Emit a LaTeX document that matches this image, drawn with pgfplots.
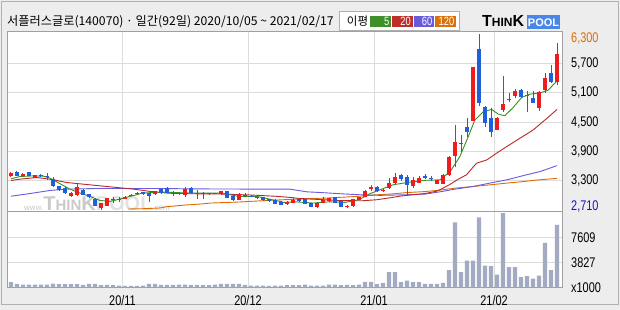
\documentclass[border=0pt]{standalone}
\usepackage{pgfplots}
\pgfplotsset{compat=1.18}
\usepackage{pgfplotstable}
\usepackage{fontspec}
\setmainfont{Noto Sans CJK KR}
\newfontfamily\labfont[FakeStretch=0.78]{Liberation Sans}
\newfontfamily\logofont{Liberation Sans}

\definecolor{bgc}{HTML}{EDEDED}
\definecolor{framec}{HTML}{B0B0B0}
\definecolor{axc}{HTML}{A0A0A0}
\definecolor{gridc}{HTML}{DCDCDC}
\definecolor{cred}{HTML}{EE1C1C}
\definecolor{cblue}{HTML}{1F5FDB}
\definecolor{maG}{HTML}{3A8F28}
\definecolor{maR}{HTML}{B8282A}
\definecolor{maP}{HTML}{6A5AE0}
\definecolor{maO}{HTML}{E06C00}
\definecolor{volc}{HTML}{A3ABC2}
\definecolor{lgG}{HTML}{3F8F2A}
\definecolor{lgR}{HTML}{BF2F2A}
\definecolor{lgP}{HTML}{6A5ADC}
\definecolor{lgO}{HTML}{D9720B}
\definecolor{logob}{HTML}{4A86E8}
\definecolor{wm}{HTML}{CACACA}
\definecolor{wm2}{HTML}{E2E2E2}

\pgfplotstableread{
i o h l c
0 3390 3470 3370 3455
2 3400 3455 3390 3445
4 3360 3425 3350 3415
10 2985 3080 2975 3060
11 3015 3240 3000 3170
15 2745 2850 2710 2845
16 2790 2955 2780 2950
17 2900 2960 2840 2930
19 2930 2980 2920 2970
20 2990 3030 2980 3020
21 3030 3065 3020 3060
24 3030 3090 3020 3085
28 3030 3060 3020 3050
29 3010 3180 2970 3135
33 3030 3060 3020 3050
34 3040 3060 3030 3055
35 3025 3090 3015 3085
38 2915 3060 2905 3040
46 2835 2895 2810 2870
47 2850 2950 2840 2915
51 2760 2870 2750 2850
52 2850 2960 2845 2910
53 2880 2955 2870 2945
56 2760 2800 2740 2790
57 2780 2935 2770 2925
58 2915 2970 2905 2960
59 2970 3110 2960 3100
60 3135 3210 3090 3165
62 3100 3160 3080 3120
63 3150 3360 3140 3265
64 3255 3450 3230 3375
67 3185 3370 3160 3320
68 3260 3400 3250 3360
71 3240 3325 3235 3320
72 3235 3440 3230 3420
73 3420 3800 3400 3795
74 3810 4440 3590 4100
77 4530 5630 4520 5625
81 4340 4600 4330 4590
82 4745 5440 4710 4865
84 5030 5180 4990 5130
86 5040 5140 4710 5060
88 4785 5125 4730 5120
89 5150 5500 5090 5410
91 5320 6110 5250 5900
}\redtab

\pgfplotstableread{
i o h l c
1 3480 3495 3390 3400
3 3470 3480 3390 3400
5 3420 3440 3380 3400
6 3405 3450 3320 3385
7 3335 3370 3170 3185
8 3185 3200 3090 3105
9 3160 3170 3040 3050
12 3115 3125 3005 3015
13 3030 3040 2950 2960
14 2930 2940 2780 2790
18 2930 2975 2870 2910
22 3070 3080 3020 3030
23 3050 3060 2860 2985
25 3130 3140 3040 3050
26 3160 3165 3045 3050
27 3060 3090 3000 3030
30 3145 3180 3040 3060
31 3060 3120 2920 3045
32 3050 3080 2930 3035
36 3085 3095 2940 2950
37 2995 3005 2890 2900
39 3015 3060 2970 3000
40 3000 3015 2965 2975
41 2965 2975 2930 2940
42 2965 2975 2895 2905
43 2920 2930 2870 2880
44 2915 2925 2825 2835
45 2870 2880 2800 2810
48 2925 2935 2870 2880
49 2920 2930 2825 2835
50 2845 2850 2755 2760
54 2960 2975 2840 2850
55 2885 2895 2755 2760
61 3175 3200 3080 3100
65 3410 3445 3300 3330
66 3375 3420 3015 3210
69 3400 3430 3330 3360
70 3350 3390 3290 3335
75 4070 4240 3880 4055
76 4390 4580 4200 4300
78 6000 6300 4830 4895
79 4810 4820 4405 4490
80 4575 4780 4200 4305
83 4975 5100 4900 4960
85 5150 5170 4990 5020
87 4985 5140 4890 4895
90 5505 5660 5300 5320
}\bluetab

\pgfplotstableread{
i v
0 800
1 550
2 450
3 450
4 450
5 450
6 450
7 600
8 500
9 500
10 500
11 500
12 400
13 550
14 550
15 350
16 400
17 350
18 300
19 250
20 250
21 250
22 300
23 550
24 550
25 400
26 400
27 400
28 450
29 450
30 400
31 400
32 350
33 350
34 450
35 550
36 550
37 550
38 550
39 400
40 300
41 300
42 300
43 250
44 300
45 300
46 350
47 350
48 350
49 450
50 300
51 300
52 300
53 450
54 450
55 350
56 400
57 350
58 450
59 850
60 850
61 500
62 700
63 2320
64 2320
65 800
66 1060
67 800
68 800
69 550
70 550
71 550
72 700
73 2620
74 9880
75 2320
76 4085
77 4085
78 10640
79 3330
80 3230
81 1970
82 11300
83 3080
84 3080
85 1560
86 1710
87 1360
88 1810
89 6760
90 2620
91 9500
}\voltab

\newcommand{\labsize}{\labfont\fontsize{14}{14}\selectfont}

\begin{document}
\begin{tikzpicture}[x=1pt,y=1pt]
\useasboundingbox (0,0) rectangle (620,310);
\fill[bgc] (0,0) rectangle (620,310);
\draw[framec, line width=1pt] (1.5,5.5) rectangle (618.5,308.5);
\fill[white] (7.5,22.5) rectangle (562,278.3);

% watermark
\node[anchor=base west, inner sep=0] at (24,99) {\logofont\color{wm}\fontsize{8}{8}\selectfont www.\bfseries\fontsize{20}{20}\selectfont T\fontsize{15}{15}\selectfont HIN\fontsize{20}{20}\selectfont K\color{wm2}POOL\color{wm}\mdseries\fontsize{8}{8}\selectfont .com};

% title
\node[anchor=west, inner sep=0] at (7,288.5) {\fontsize{12.2}{13}\selectfont 서플러스글로(140070) · 일간(92일) 2020/10/05 \textasciitilde{} 2021/02/17};

% MA legend
\draw[draw=framec, fill=white, line width=1pt] (339.5,279) rectangle (459,298);
\node[inner sep=0] at (357.5,288.5) {\fontsize{11.5}{12}\selectfont 이평};
\fill[lgG] (370,283) rectangle (391,294);
\fill[lgR] (392,283) rectangle (412.5,294);
\fill[lgP] (413.5,283) rectangle (434,294);
\fill[lgO] (435,283) rectangle (456,294);
\node[anchor=east, inner sep=0, white] at (389.5,288.5) {\labfont\fontsize{12}{12}\selectfont 5};
\node[anchor=east, inner sep=0, white] at (411,288.5) {\labfont\fontsize{12}{12}\selectfont 20};
\node[anchor=east, inner sep=0, white] at (432.5,288.5) {\labfont\fontsize{12}{12}\selectfont 60};
\node[anchor=east, inner sep=0, white] at (454.5,288.5) {\labfont\fontsize{12}{12}\selectfont 120};

% logo
\node[anchor=base west, inner sep=0] at (482,283) {\logofont\bfseries\fontsize{16}{16}\selectfont T\fontsize{12}{12}\selectfont HIN\fontsize{16}{16}\selectfont K};
\fill[logob] (527,281) rectangle (560,294.5);
\node[inner sep=0, white] at (543.5,287.7) {\logofont\bfseries\fontsize{11}{11}\selectfont POOL};

% price panel
\begin{axis}[
  at={(7.5pt,98pt)}, anchor=south west, scale only axis,
  width=554.5pt, height=180.3pt,
  xmin=-0.583, xmax=91.83, ymin=2663, ymax=6346,
  axis line style={draw=axc, line width=1pt},
  xtick={18.58,39.5,60.5,80.5}, xticklabels={},
  ytick={3300,3900,4500,5100,5700},
  yticklabels={{3,300},{3,900},{4,500},{5,100},{5,700}},
  yticklabel pos=right,
  yticklabel style={anchor=west, inner sep=0pt, xshift=9pt, font=\labsize},
  major tick length=0pt,
  grid=major, major grid style={draw=gridc, line width=0.8pt},
]
\addplot[maO, line width=0.9pt, mark=none] coordinates {(19.5,2724) (22,2730) (24.8,2745) (25.9,2770) (29,2805) (31.5,2825) (33.3,2846) (38,2867) (43,2900) (48,2928) (53,2950) (57.6,2981) (61,3015) (63.2,3029) (66,3060) (69,3080) (71.5,3110) (74,3150) (77,3184) (80,3220) (82.6,3253) (85,3280) (88,3320) (91,3350)};
\addplot[maP, line width=0.9pt, mark=none] coordinates {(0,2985) (3.7,3050) (6.5,3103) (9.3,3131) (14.8,3144) (20.4,3144) (25,3144) (30,3135) (40,3131) (46.5,3131) (48,3100) (49.3,3075) (52,3058) (55,3035) (58.2,3015) (61.5,3003) (66,3015) (69,3029) (71.5,3075) (74,3130) (77,3184) (79.8,3253) (82.6,3320) (85.9,3422) (88.2,3490) (91,3610)};
\addplot[maR, line width=0.9pt, mark=none] coordinates {(0,3306) (1.5,3334) (4.3,3367) (6.5,3334) (9.3,3265) (12,3232) (14.8,3198) (17.6,3164) (20.4,3131) (23.2,3083) (26,3050) (29.8,3036) (35,3030) (40,3010) (44,2985) (46.5,2961) (48,2940) (52,2914) (55,2895) (58.6,2893) (61,2914) (63,2950) (65,2990) (67,3015) (69,3040) (71,3090) (72,3150) (73.2,3230) (74.5,3330) (75.9,3422) (76.8,3550) (77.6,3660) (79.3,3727) (80.9,3863) (82.6,3998) (84.8,4168) (87,4337) (89.3,4575) (91,4758)};
\addplot[maG, line width=0.9pt, mark=none] coordinates {(0,3340) (1.5,3388) (3.7,3400) (5.4,3395) (6.5,3354) (8.2,3239) (9.8,3131) (11.5,3050) (13.2,2981) (14.8,2900) (16.5,2880) (18.2,2928) (19.8,2981) (22,3050) (25,3070) (30,3050) (35,3050) (38,2981) (41,2981) (43,2928) (45.5,2860) (47.5,2870) (50.4,2846) (53,2870) (55.7,2860) (58,2914) (59.8,3036) (61.5,3117) (63.7,3219) (66,3265) (69,3310) (71.5,3320) (73.2,3490) (74.8,3794) (76.2,4201) (77.3,4541) (78.7,4710) (80.1,4758) (81.2,4663) (82.3,4629) (83.7,4799) (85.1,5002) (86.5,5070) (88.2,5097) (89.5,5151) (91,5340)};
% wicks
\addplot[cred, line width=1pt, mark=none, forget plot,
  quiver={u=0, v=\thisrow{h}-\thisrow{l}}] table[x=i, y=l] {\redtab};
\addplot[cblue, line width=1pt, mark=none, forget plot,
  quiver={u=0, v=\thisrow{h}-\thisrow{l}}] table[x=i, y=l] {\bluetab};
% bodies
\addplot[cred, line width=4.6pt, mark=none, forget plot,
  quiver={u=0, v=\thisrow{c}-\thisrow{o}}] table[x=i, y=o] {\redtab};
\addplot[cblue, line width=4.6pt, mark=none, forget plot,
  quiver={u=0, v=\thisrow{c}-\thisrow{o}}] table[x=i, y=o] {\bluetab};
\end{axis}

% volume panel
\begin{axis}[
  at={(7.5pt,22.5pt)}, anchor=south west, scale only axis,
  width=554.5pt, height=75.5pt,
  xmin=-0.583, xmax=91.83, ymin=0, ymax=11460,
  scaled y ticks=false,
  axis line style={draw=axc, line width=1pt},
  xtick={18.58,39.5,60.5,80.5}, xticklabels={20/11,20/12,21/01,21/02},
  xticklabel style={anchor=center, yshift=-12.5pt, font=\labsize},
  ytick={0,3827,7609}, yticklabels={x1000,3827,7609},
  yticklabel pos=right,
  yticklabel style={anchor=west, inner sep=0pt, xshift=9pt, font=\labsize},
  major tick length=0pt,
  grid=major, major grid style={draw=gridc, line width=0.8pt},
]
\addplot[ybar, bar width=4.4pt, fill=volc, draw=none] table[x=i, y=v] {\voltab};
\end{axis}

\node[anchor=west, inner sep=0, text=maO] at (571,271.7) {\labsize 6,300};
\node[anchor=west, inner sep=0, text={rgb,255:red,20;green,20;blue,210}] at (571,103.3) {\labsize 2,710};
\end{tikzpicture}
\end{document}
